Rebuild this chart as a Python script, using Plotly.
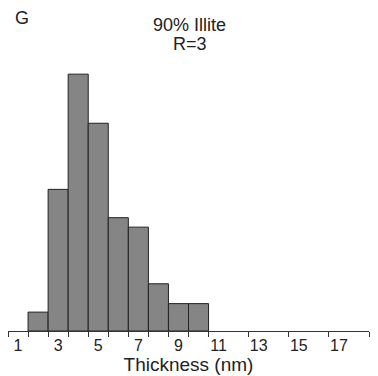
import plotly.graph_objects as go

# Data
thickness_nm = [2, 3, 4, 5, 6, 7, 8, 9, 10]
frequency_pct = [2, 15, 27.2, 22, 12, 11, 5, 2.9, 2.9]
tick_labels = ["1", "3", "5", "7", "9", "11", "13", "15", "17"]
tick_positions = [1, 3, 5, 7, 9, 11, 13, 15, 17]
minor_tick_positions = [0.5, 1.5, 2.5, 3.5, 4.5, 5.5, 6.5, 7.5, 8.5, 9.5, 10.5,
                        12.5, 14.5, 16.5, 18.5]

FONT = "Liberation Sans, Arial, Helvetica, sans-serif"

fig = go.Figure(
    go.Bar(
        x=thickness_nm,
        y=frequency_pct,
        width=1,
        marker=dict(color="#858585", line=dict(color="#222222", width=1)),
    )
)

fig.update_layout(
    width=378,
    height=376,
    margin=dict(l=8, r=9, t=60, b=45),
    paper_bgcolor="white",
    plot_bgcolor="white",
    showlegend=False,
    font=dict(family=FONT, color="#222222"),
    xaxis=dict(
        range=[0.5, 18.5],
        tickmode="array",
        tickvals=tick_positions,
        ticktext=tick_labels,
        ticks="",
        showgrid=False,
        zeroline=False,
        showline=True,
        linecolor="#333333",
        linewidth=1,
        tickfont=dict(size=16, color="#222222"),
        minor=dict(
            tickmode="array",
            tickvals=minor_tick_positions,
            ticks="outside",
            ticklen=5,
            tickwidth=1,
            tickcolor="#333333",
            showgrid=False,
        ),
        title=dict(text="Thickness (nm)", font=dict(size=19, color="#222222"), standoff=1),
    ),
    yaxis=dict(
        range=[0, 28.7],
        visible=False,
        showgrid=False,
        zeroline=False,
    ),
    annotations=[
        dict(text="G", x=13, y=376 - 18, xref="paper", yref="paper",
             showarrow=False, xanchor="left", yanchor="middle",
             font=dict(size=18, color="#222222")),
        dict(text="90% Illite", x=190, y=376 - 25, xref="paper", yref="paper",
             showarrow=False, xanchor="center", yanchor="middle",
             font=dict(size=18, color="#222222")),
        dict(text="R=3", x=190, y=376 - 44, xref="paper", yref="paper",
             showarrow=False, xanchor="center", yanchor="middle",
             font=dict(size=18, color="#222222")),
    ],
)

# convert pixel positions for annotations to paper coordinates
plot_w = 378 - 8 - 9
plot_h = 376 - 60 - 45
for a in fig.layout.annotations:
    a.x = (a.x - 8) / plot_w
    a.y = (a.y - 45) / plot_h

fig.write_html("out.html")
